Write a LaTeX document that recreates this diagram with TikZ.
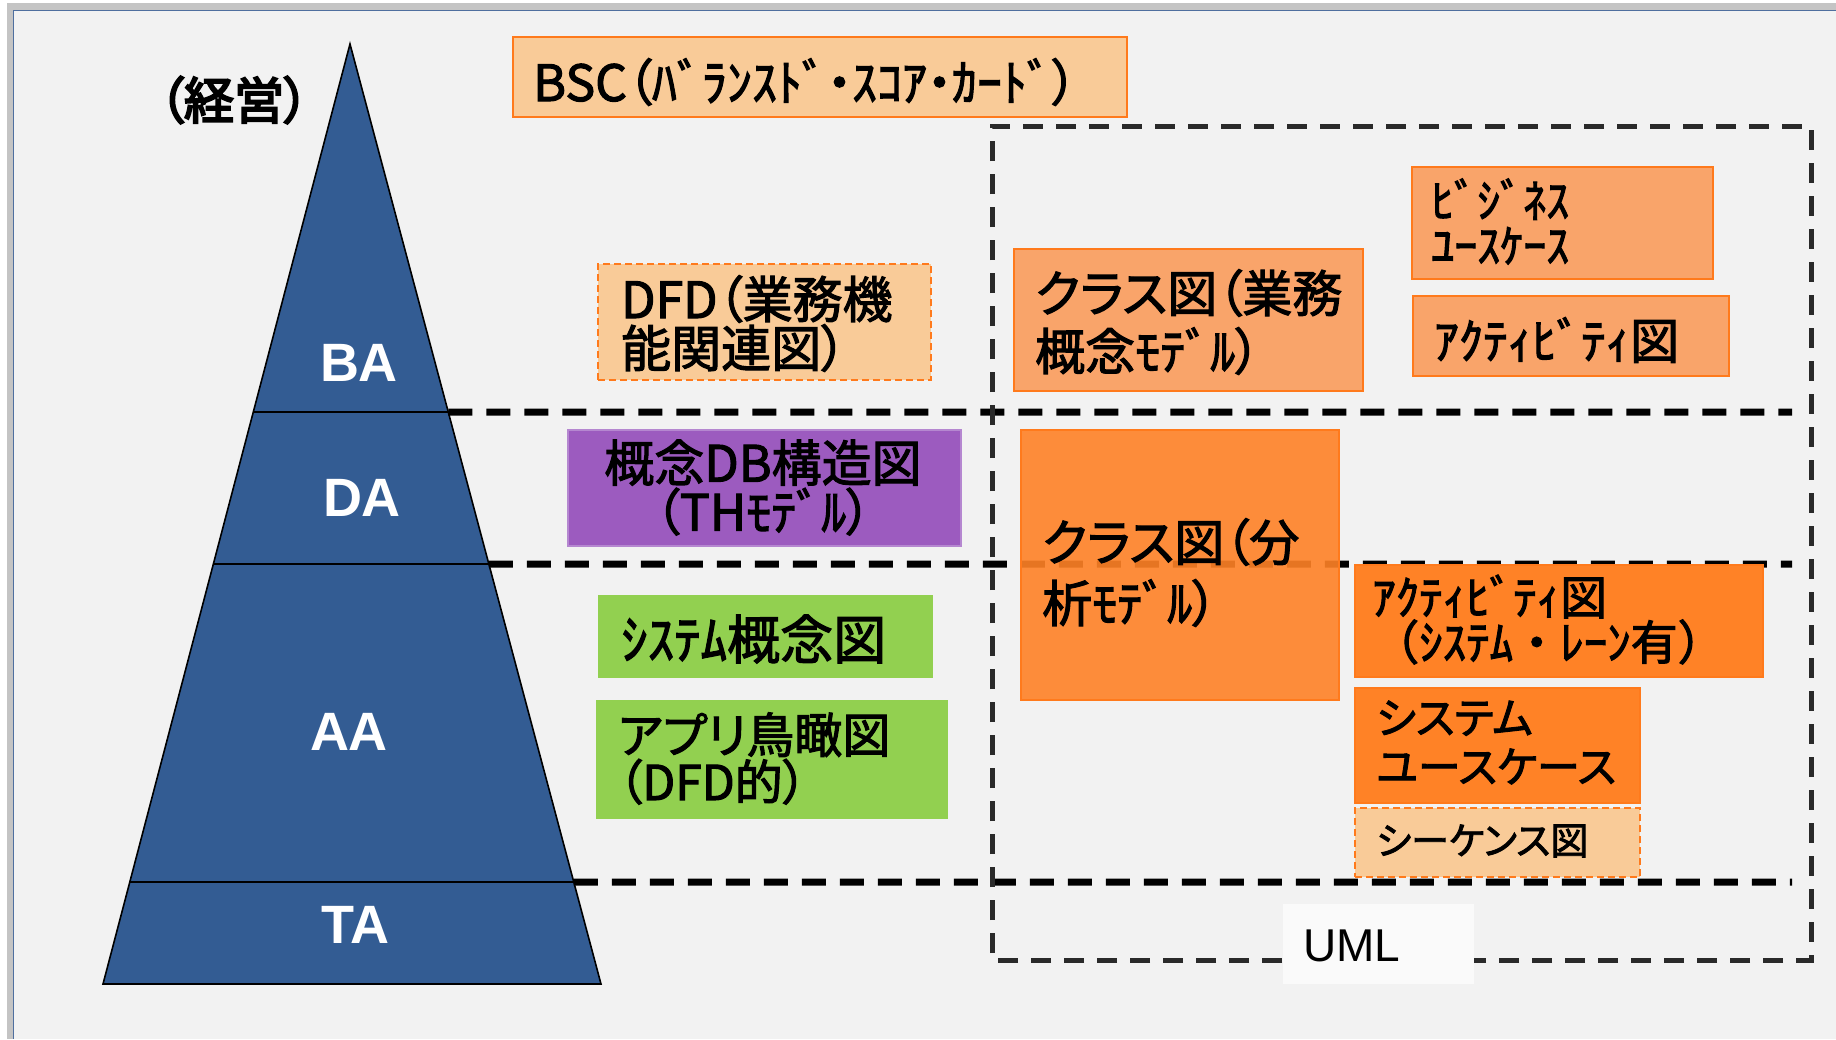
\documentclass[tikz,border=0pt]{standalone}
\usepackage{fontspec}
\setmainfont{Liberation Sans}
\newfontfamily\jp[RawFeature=+palt,FakeBold=2.2]{Noto Sans CJK JP}
\newfontfamily\jpb[RawFeature=+palt,FakeBold=4]{Noto Sans CJK JP}
\newfontfamily\jpf[FakeBold=2.2]{Noto Sans CJK JP}
\newfontfamily\lab{Liberation Sans}
\usetikzlibrary{calc}
\definecolor{bgc}{HTML}{F2F2F2}
\definecolor{lor}{HTML}{F9CB98}
\definecolor{mor}{HTML}{F9A46A}
\definecolor{bor}{HTML}{FF8226}
\definecolor{orl}{HTML}{FF7A1C}
\definecolor{pur}{HTML}{9C5BBF}
\definecolor{purl}{HTML}{B587D0}
\definecolor{grn}{HTML}{92D050}
\definecolor{tri}{HTML}{335C93}
\definecolor{umlc}{HTML}{2A2A2A}
\definecolor{frame}{HTML}{C4C4C4}
\definecolor{frameb}{HTML}{4F6F9F}
\tikzset{
  bx/.style={rectangle, inner sep=0pt, anchor=north west, line width=2pt},
  tx/.style={inner sep=0pt, anchor=west, align=left, text=black},
  lvl/.style={text=white, font=\lab\bfseries\fontsize{54}{54}\selectfont, inner sep=0pt},
  solidlvl/.style={line width=1.6pt, black},
  dashlvl/.style={line width=7pt, black, dash pattern=on 24pt off 14pt},
  umlline/.style={line width=5pt, umlc, dash pattern=on 20pt off 13pt},
  boxdash/.style={dash pattern=on 7pt off 4pt},
}
\begin{document}
\begin{tikzpicture}[x=1pt,y=-1pt]
\useasboundingbox (0,0) rectangle (1836,1039);
\fill[white] (0,0) rectangle (1836,1039);
\fill[frame] (7,3) rectangle (1836,1039);
\fill[bgc] (13,10) rectangle (1836,1039);
\draw[frameb, line width=1.2pt] (13.5,1039) -- (13.5,10.5) -- (1836,10.5);

% pyramid
\coordinate (apex) at (350,44);
\coordinate (bl) at (103,984);
\coordinate (br) at (601,984);
\filldraw[fill=tri, draw=black, line width=1.6pt] (apex) -- (bl) -- (br) -- cycle;
\coordinate (l1) at ($(apex)!0.3915!(bl)$);
\coordinate (r1) at ($(apex)!0.3915!(br)$);
\coordinate (l2) at ($(apex)!0.5532!(bl)$);
\coordinate (r2) at ($(apex)!0.5532!(br)$);
\coordinate (l3) at ($(apex)!0.8915!(bl)$);
\coordinate (r3) at ($(apex)!0.8915!(br)$);
\coordinate (e1) at (1792,412);
\coordinate (e2) at (1792,564);
\coordinate (e3) at (1792,882);
\draw[solidlvl] (l1) -- (r1);
\draw[solidlvl] (l2) -- (r2);
\draw[solidlvl] (l3) -- (r3);
\draw[dashlvl] (r1) -- (e1);
\draw[dashlvl] (r2) -- (e2);
\draw[dashlvl] (r3) -- (e3);

\node[lvl] (ba) at (359,363) {BA};
\node[lvl] (da) at (362,498) {DA};
\node[lvl] (aa) at (349,732) {AA};
\node[lvl] (ta) at (355,925) {TA};
\node[inner sep=0pt, font=\jpb\fontsize{50}{50}\selectfont] (keiei) at (234,100) {（経営）};

% UML frame
\coordinate (u1) at (1282,960);
\coordinate (u2) at (992,960);
\coordinate (u3) at (992,126);
\coordinate (u4) at (1811,126);
\coordinate (u5) at (1811,960);
\coordinate (u6) at (1473,960);
\draw[umlline] (u1) -- (u2) -- (u3) -- (u4) -- (u5) -- (u6);

% boxes
\node[bx, draw=orl, fill=lor, minimum width=614, minimum height=80] (bsc) at (512,36) {};
\node[tx, font=\jp\fontsize{50}{50}\selectfont] (bsct) at (533,82) {BSC（ﾊﾞﾗﾝｽﾄﾞ・ｽｺｱ・ｶｰﾄﾞ）};

\node[bx, draw=orl, fill=lor, boxdash, minimum width=333, minimum height=116] (dfd) at (597,263) {};
\node[tx, font=\jp\fontsize{50}{49}\selectfont] (dfdt) at (621,323.5) {DFD（業務機\\能関連図）};

\node[bx, draw=orl, fill=mor, minimum width=349, minimum height=142] (cls1) at (1013,248) {};
\node[tx, font=\jp\fontsize{50}{58}\selectfont] (cls1t) at (1035,322) {クラス図（業務\\概念ﾓﾃﾞﾙ）};

\node[bx, draw=orl, fill=mor, minimum width=301, minimum height=112] (buc) at (1411,166) {};
\node[tx, font=\jp\fontsize{46}{45}\selectfont] (buct) at (1431,221.5) {ﾋﾞｼﾞﾈｽ\\ﾕｰｽｹｰｽ};

\node[bx, draw=orl, fill=mor, minimum width=316, minimum height=80] (act1) at (1412,295) {};
\node[tx, font=\jp\fontsize{49}{49}\selectfont] (act1t) at (1434,340) {ｱｸﾃｨﾋﾞﾃｨ図};

\node[bx, draw=purl, fill=pur, minimum width=393, minimum height=116] (db) at (567,429) {};
\node[inner sep=0pt, align=center, text=black, font=\jp\fontsize{50}{49}\selectfont] (dbt) at (763,487.5) {概念DB構造図\\（THﾓﾃﾞﾙ）};

\node[bx, draw=orl, fill=bor, fill opacity=0.9, minimum width=318, minimum height=270] (cls2) at (1020,429) {};
\node[tx, font=\jp\fontsize{50}{61}\selectfont] (cls2t) at (1042,572.5) {クラス図（分\\析ﾓﾃﾞﾙ）};

\node[bx, draw=grn, fill=grn, minimum width=333, minimum height=81] (sys) at (598,595) {};
\node[tx, font=\jp\fontsize{53}{53}\selectfont] (syst) at (621,639) {ｼｽﾃﾑ概念図};

\node[bx, draw=grn, fill=grn, minimum width=350, minimum height=117] (app) at (596,700) {};
\node[tx, font=\jp\fontsize{48}{47}\selectfont] (appt) at (618,758.5) {アプリ鳥瞰図\\（DFD的）};

\node[bx, draw=orl, fill=bor, minimum width=408, minimum height=112] (act2) at (1354,564) {};
\node[tx, font=\jpf\fontsize{47}{45}\selectfont] (act2t) at (1372,619.5) {ｱｸﾃｨﾋﾞﾃｨ図\\（ｼｽﾃﾑ・ﾚｰﾝ有）};

\node[bx, draw=orl, fill=bor, minimum width=285, minimum height=115] (suc) at (1354,687) {};
\node[tx, font=\jp\fontsize{43}{49}\selectfont] (suct) at (1376,742.5) {システム\\ユースケース};

\node[bx, draw=orl, fill=lor, boxdash, minimum width=285, minimum height=69] (seq) at (1354,807) {};
\node[tx, font=\jp\fontsize{38}{38}\selectfont] (seqt) at (1376,841) {シーケンス図};

% UML label
\node[bx, fill=white!60!bgc, minimum width=191, minimum height=80] (umlbg) at (1282,903) {};
\node[tx, font=\lab\fontsize{46}{46}\selectfont] (uml) at (1303,946) {UML};
\end{tikzpicture}
\end{document}
